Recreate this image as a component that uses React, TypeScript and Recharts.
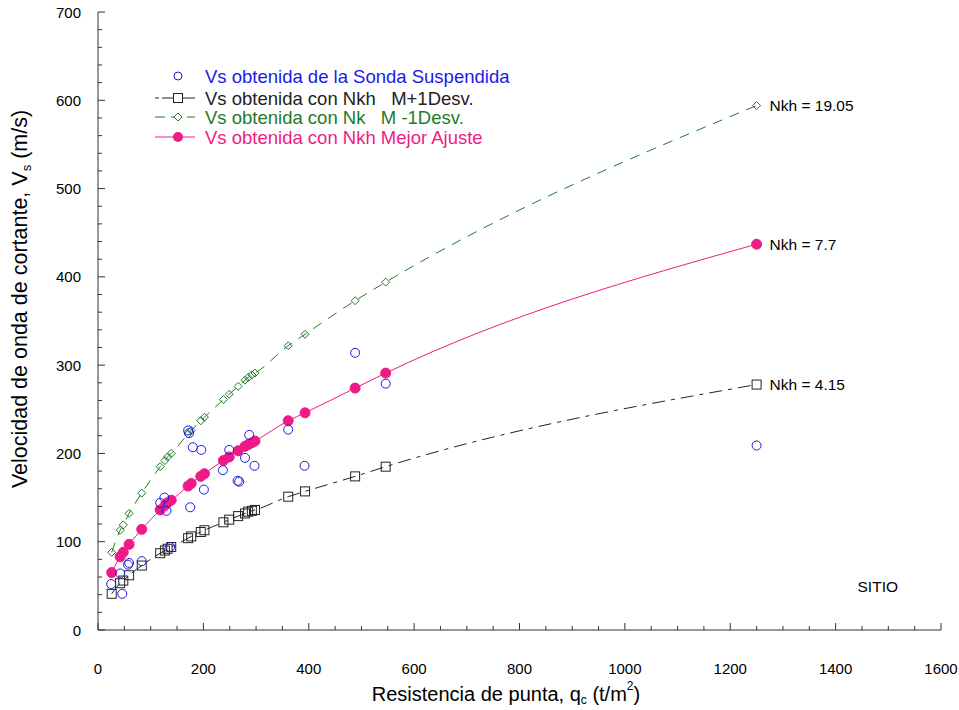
import React from 'react';
import { ComposedChart, Line, Scatter, XAxis, YAxis, ReferenceDot, Label } from 'recharts';

// qc (t/m2) where the three fitted curves were evaluated
const qcFit = [26, 42, 48, 59, 83, 118, 127, 132, 139, 171, 177, 195, 202, 238, 249, 266, 279, 285, 292, 298, 361, 393, 488, 546, 1250];
// Vs (m/s) for each fit
const vsBest = [65, 83, 88, 97, 114, 136, 141, 144, 147, 163, 166, 174, 177, 192, 196, 203, 208, 210, 212, 214, 237, 246, 274, 291, 437];
const vsPlus = [41, 53, 56, 62, 73, 87, 90, 92, 94, 104, 106, 111, 113, 122, 125, 129, 132, 134, 135, 136, 151, 157, 174, 185, 278];
const vsMinus = [88, 113, 119, 132, 155, 185, 192, 196, 200, 222, 226, 237, 241, 261, 267, 276, 283, 286, 289, 291, 322, 335, 373, 394, 594];

// measured with the suspension logger
const qcSonda = [25, 42, 46, 57, 59, 83, 118, 126, 130, 137, 171, 173, 175, 180, 196, 201, 237, 249, 265, 268, 279, 287, 297, 361, 392, 488, 546, 1250];
const vsSonda = [52, 64, 41, 74, 76, 78, 144, 150, 135, 94, 226, 223, 139, 207, 204, 159, 181, 204, 169, 168, 195, 221, 186, 227, 186, 314, 279, 209];

const xMajor = [0, 200, 400, 600, 800, 1000, 1200, 1400, 1600];
const yMajor = [0, 100, 200, 300, 400, 500, 600, 700];
const xTicks = Array.from({ length: 33 }, (_, i) => i * 50);
const yTicks = Array.from({ length: 36 }, (_, i) => i * 20);

const legendItems = [
  'Vs obtenida de la Sonda Suspendida',
  'Vs obtenida con Nkh   M+1Desv.',
  'Vs obtenida con Nk   M -1Desv.',
  'Vs obtenida con Nkh Mejor Ajuste',
];

const FONT = '"Liberation Sans", Arial, sans-serif';
const AXIS = '#333';
const BLUE = '#1a1ae6';
const GREEN = '#1f7a2a';
const PINK = '#f01a86';
const BLACK = '#222';

const toRows = (xs: number[], ys: number[]) => xs.map((qc, i) => ({ qc, vs: ys[i] }));
const bestData = toRows(qcFit, vsBest);
const plusData = toRows(qcFit, vsPlus);
const minusData = toRows(qcFit, vsMinus);
const sondaData = toRows(qcSonda, vsSonda);

// keep the runs of spaces in the legend
const keepSpaces = (s: string) => s.replace(/ {2,}/g, (m) => '\u00a0'.repeat(m.length));

const BottomTick = (p: any) => {
  const major = xMajor.includes(p.payload.value);
  return (
    <g>
      <line x1={p.x} x2={p.x} y1={p.y} y2={p.y - (major ? 7 : 4)} stroke={AXIS} />
      {major && (
        <text x={p.x} y={p.y + 38} textAnchor="middle" dominantBaseline="central" fontSize={15} fontFamily={FONT} fill="#000">
          {p.payload.value}
        </text>
      )}
    </g>
  );
};

const TopTick = (p: any) => {
  const major = xMajor.includes(p.payload.value);
  return <line x1={p.x} x2={p.x} y1={p.y} y2={p.y + (major ? 7 : 4)} stroke={AXIS} />;
};

const LeftTick = (p: any) => {
  const major = yMajor.includes(p.payload.value);
  return (
    <g>
      <line x1={p.x} x2={p.x + (major ? 7 : 4)} y1={p.y} y2={p.y} stroke={AXIS} />
      {major && (
        <text x={p.x - 17} y={p.y} textAnchor="end" dominantBaseline="central" fontSize={15} fontFamily={FONT} fill="#000">
          {p.payload.value}
        </text>
      )}
    </g>
  );
};

const RightTick = (p: any) => {
  const major = yMajor.includes(p.payload.value);
  return <line x1={p.x} x2={p.x - (major ? 7 : 4)} y1={p.y} y2={p.y} stroke={AXIS} />;
};

const Square = (p: any) => (
  <rect key={`sq-${p.index}`} x={p.cx - 4.5} y={p.cy - 4.5} width={9} height={9} fill="#fff" fillOpacity={0} stroke={BLACK} strokeWidth={1} />
);
const Diamond = (p: any) => (
  <path key={`dm-${p.index}`} d={`M${p.cx},${p.cy - 4} L${p.cx + 4},${p.cy} L${p.cx},${p.cy + 4} L${p.cx - 4},${p.cy} Z`} fill="none" stroke={GREEN} strokeWidth={1} />
);
const Dot = (p: any) => <circle key={`dt-${p.index}`} cx={p.cx} cy={p.cy} r={5} fill={PINK} stroke={PINK} />;
const Ring = (p: any) => <circle cx={p.cx} cy={p.cy} r={4.5} fill="none" stroke={BLUE} strokeWidth={1} />;

const XTitle = (p: any) => {
  const { x, y } = p.viewBox;
  return (
    <text x={x + 408} y={y + 64} textAnchor="middle" dominantBaseline="central" fontSize={20} fontFamily={FONT} fill="#000">
      Resistencia de punta, q<tspan fontSize={12} dy={6}>c</tspan>
      <tspan dy={-6}> (t/m</tspan>
      <tspan fontSize={12} dy={-8}>2</tspan>
      <tspan dy={8}>)</tspan>
    </text>
  );
};

const YTitle = (p: any) => {
  const { x, y, height } = p.viewBox;
  const cx = x - 18;
  const cy = y + height / 2 - 22;
  return (
    <text x={cx} y={cy} transform={`rotate(-90, ${cx}, ${cy})`} textAnchor="middle" dominantBaseline="central" fontSize={21.5} fontFamily={FONT} fill="#000">
      Velocidad de onda de cortante, V<tspan fontSize={13} dy={6}>s</tspan>
      <tspan dy={-6}> (m/s)</tspan>
    </text>
  );
};

const LegendBox = () => (
  <svg width={400} height={90} style={{ position: 'absolute', left: 150, top: 64 }}>
    <g fontFamily={FONT} fontSize={18.5}>
      <circle cx={28} cy={12} r={4} fill="none" stroke={BLUE} />
      <text x={55} y={12} dominantBaseline="central" fill={BLUE}>{keepSpaces(legendItems[0])}</text>

      <line x1={5} x2={45} y1={34} y2={34} stroke={BLACK} strokeDasharray="4 3 40" />
      <rect x={23.5} y={29.5} width={9} height={9} fill="#fff" stroke={BLACK} />
      <text x={55} y={34} dominantBaseline="central" fill={BLACK}>{keepSpaces(legendItems[1])}</text>

      <line x1={5} x2={45} y1={53} y2={53} stroke={GREEN} strokeDasharray="10 6" />
      <path d="M28,49 L32,53 L28,57 L24,53 Z" fill="#fff" stroke={GREEN} />
      <text x={55} y={53} dominantBaseline="central" fill={GREEN}>{keepSpaces(legendItems[2])}</text>

      <line x1={5} x2={45} y1={73} y2={73} stroke={PINK} />
      <circle cx={28} cy={73} r={5} fill={PINK} />
      <text x={55} y={73} dominantBaseline="central" fill={PINK}>{keepSpaces(legendItems[3])}</text>
    </g>
  </svg>
);

const note = (value: string, pos: 'right' | 'center', offset = 13) => ({
  value,
  position: pos,
  offset,
  fill: '#000',
  fontSize: 15.5,
  fontFamily: FONT,
});

export default function App() {
  return (
    <div style={{ position: 'absolute', left: 0, top: 0, width: 959, height: 710, background: '#fff' }}>
      <ComposedChart width={959} height={710} margin={{ top: 12, right: 18, bottom: 20, left: 38 }}>
        <XAxis
          type="number"
          dataKey="qc"
          domain={[0, 1600]}
          ticks={xTicks}
          interval={0}
          height={60}
          tickSize={0}
          tickMargin={0}
          tickLine={false}
          tick={<BottomTick />}
          axisLine={{ stroke: AXIS }}
        >
          <Label content={<XTitle />} />
        </XAxis>
        <XAxis
          xAxisId="top"
          orientation="top"
          type="number"
          domain={[0, 1600]}
          ticks={xTicks}
          interval={0}
          height={0}
          tickSize={0}
          tickMargin={0}
          tickLine={false}
          tick={<TopTick />}
          axisLine={{ stroke: AXIS }}
        />
        <YAxis
          type="number"
          dataKey="vs"
          domain={[0, 700]}
          ticks={yTicks}
          interval={0}
          width={60}
          tickSize={0}
          tickMargin={0}
          tickLine={false}
          tick={<LeftTick />}
          axisLine={{ stroke: AXIS }}
        >
          <Label content={<YTitle />} />
        </YAxis>
        <YAxis
          yAxisId="right"
          orientation="right"
          type="number"
          domain={[0, 700]}
          ticks={yTicks}
          interval={0}
          width={0}
          tickSize={0}
          tickMargin={0}
          tickLine={false}
          tick={<RightTick />}
          axisLine={{ stroke: AXIS }}
        />

        <Line data={plusData} dataKey="vs" type="monotone" stroke={BLACK} strokeWidth={1} strokeDasharray="13 6 4 6" dot={Square} activeDot={false} isAnimationActive={false} />
        <Line data={minusData} dataKey="vs" type="monotone" stroke={GREEN} strokeWidth={1} strokeDasharray="10 8" dot={Diamond} activeDot={false} isAnimationActive={false} />
        <Line data={bestData} dataKey="vs" type="monotone" stroke={PINK} strokeWidth={1} dot={Dot} activeDot={false} isAnimationActive={false} />
        <Scatter data={sondaData} shape={Ring} isAnimationActive={false} />

        <ReferenceDot x={1250} y={594} r={0} fill="none" stroke="none" label={note('Nkh = 19.05', 'right')} />
        <ReferenceDot x={1250} y={437} r={0} fill="none" stroke="none" label={note('Nkh = 7.7', 'right')} />
        <ReferenceDot x={1250} y={278} r={0} fill="none" stroke="none" label={note('Nkh = 4.15', 'right')} />
        <ReferenceDot x={1480} y={49} r={0} fill="none" stroke="none" label={note('SITIO', 'center')} />
      </ComposedChart>
      <LegendBox />
    </div>
  );
}
